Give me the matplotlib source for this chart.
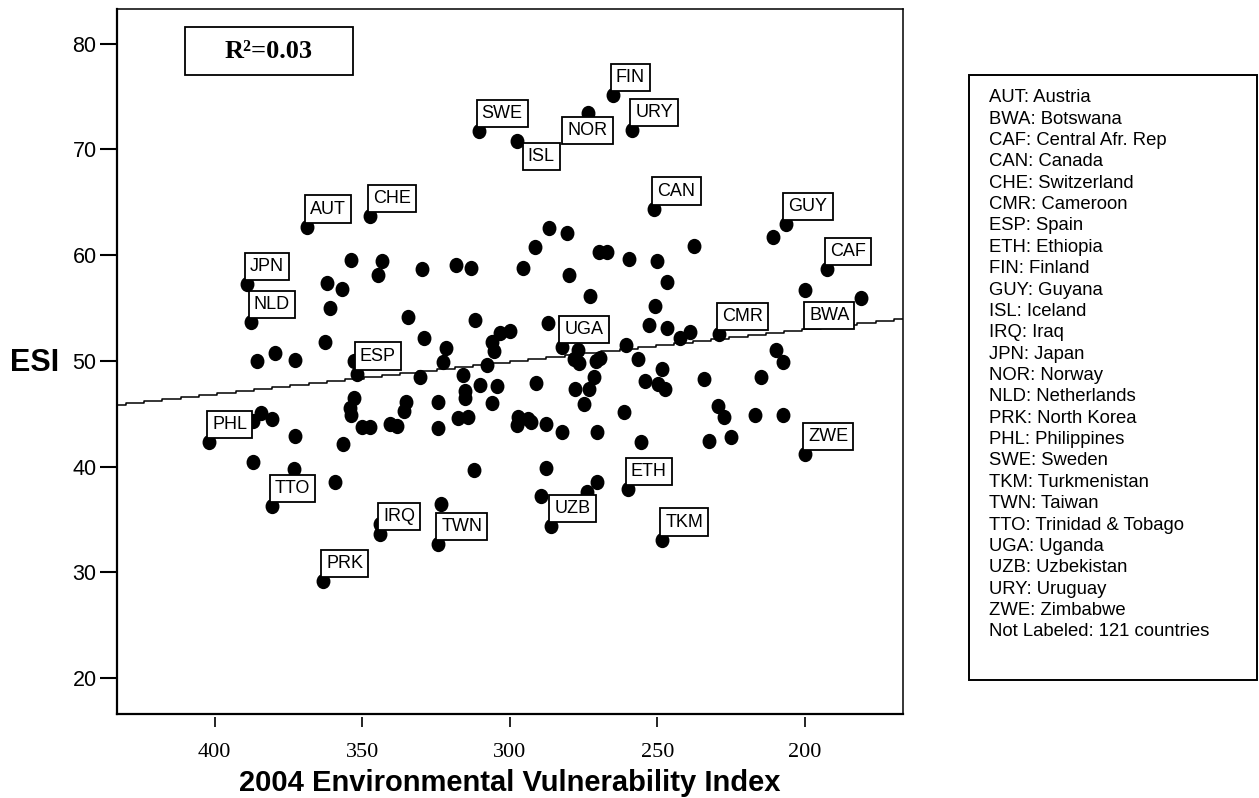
import numpy as np
import matplotlib
matplotlib.use("Agg")
import matplotlib.pyplot as plt
from matplotlib.path import Path
from matplotlib.transforms import Affine2D
from matplotlib.patches import Rectangle

plt.rcParams['font.family'] = ['Liberation Sans', 'DejaVu Sans']

# labelled countries: code, EVI 2004, ESI
codes = ['AUT', 'CHE', 'JPN', 'NLD', 'FIN', 'SWE', 'ISL', 'NOR', 'URY', 'CAN',
         'GUY', 'CAF', 'BWA', 'CMR', 'UGA', 'ESP', 'PHL', 'ZWE', 'ETH', 'TTO',
         'UZB', 'IRQ', 'TKM', 'TWN', 'PRK']
evi_lab = [368.8, 347.4, 389.2, 387.8, 265.2, 310.6, 297.7, 273.4, 258.5, 251.0,
           206.6, 192.4, 180.9, 229.1, 282.5, 351.9, 401.9, 199.9, 260.0, 380.6,
           285.9, 344.0, 248.3, 324.2, 363.3]
esi_lab = [62.7, 63.7, 57.3, 53.7, 75.1, 71.7, 70.8, 73.4, 71.8, 64.4,
           62.9, 58.7, 55.9, 52.5, 51.3, 48.8, 42.3, 41.2, 37.9, 36.3,
           34.4, 33.6, 33.1, 32.7, 29.2]

# remaining countries (not labelled)
evi_other = [361.9, 357.0, 353.9, 343.2, 344.8, 329.6, 286.8, 280.8, 291.6, 269.8,
             267.0, 259.6, 250.1, 246.6, 237.6, 318.1, 313.3, 295.6, 280.1, 272.7,
             211.0, 200.0, 361.0, 334.5, 329.0, 362.6, 385.8, 379.6, 372.9, 352.8,
             330.5, 322.6, 321.5, 352.8, 354.2, 353.9, 350.2, 347.4, 340.6, 338.2,
             335.2, 335.9, 324.3, 324.3, 384.3, 386.9, 380.6, 372.9, 356.4, 386.9,
             373.1, 359.3, 344.0, 323.4, 250.9, 252.8, 246.9, 242.4, 239.0, 209.7,
             207.4, 214.8, 234.2, 229.5, 227.5, 217.0, 207.4, 232.5, 225.1, 287.0,
             311.9, 303.4, 299.8, 306.2, 305.4, 307.9, 316.0, 310.2, 304.5, 315.2,
             315.2, 306.2, 317.5, 314.1, 291.2, 278.4, 276.5, 276.9, 270.8, 269.5,
             271.5, 278.0, 273.3, 274.8, 260.8, 256.5, 248.6, 254.3, 249.8, 247.5,
             297.4, 297.7, 293.9, 292.9, 287.6, 282.5, 270.6, 261.4, 255.4, 312.2,
             287.6, 289.3, 270.6, 273.7]
esi_other = [57.4, 56.8, 59.5, 59.4, 58.1, 58.7, 62.6, 62.1, 60.8, 60.3,
             60.3, 59.6, 59.4, 57.5, 60.9, 59.1, 58.8, 58.8, 58.1, 56.1,
             61.7, 56.7, 55.0, 54.1, 52.2, 51.8, 50.0, 50.7, 50.1, 50.0,
             48.5, 49.9, 51.2, 46.5, 45.5, 44.9, 43.7, 43.7, 44.0, 43.85,
             46.1, 45.3, 46.1, 43.6, 45.1, 44.3, 44.5, 42.9, 42.15, 40.4,
             39.8, 38.5, 34.6, 36.5, 55.2, 53.4, 53.1, 52.2, 52.7, 51.0,
             49.9, 48.5, 48.3, 45.7, 44.7, 44.9, 44.9, 42.4, 42.8, 53.6,
             53.9, 52.6, 52.8, 51.8, 50.9, 49.6, 48.7, 47.7, 47.6, 47.1,
             46.5, 46.0, 44.6, 44.7, 47.9, 50.2, 49.8, 51.0, 50.0, 50.3,
             48.5, 47.35, 47.35, 45.9, 51.5, 50.2, 49.2, 48.1, 47.8, 47.3,
             44.7, 43.9, 44.5, 44.2, 44.0, 43.3, 43.3, 45.15, 42.3, 39.7,
             39.9, 37.2, 38.5, 37.6]

# linear fit ESI ~ EVI
fit_intercept = 59.08
fit_slope = -0.0305
r_squared = 0.03

legend_lines = ['AUT: Austria', 'BWA: Botswana', 'CAF: Central Afr. Rep', 'CAN: Canada',
                'CHE: Switzerland', 'CMR: Cameroon', 'ESP: Spain', 'ETH: Ethiopia',
                'FIN: Finland', 'GUY: Guyana', 'ISL: Iceland', 'IRQ: Iraq', 'JPN: Japan',
                'NOR: Norway', 'NLD: Netherlands', 'PRK: North Korea', 'PHL: Philippines',
                'SWE: Sweden', 'TKM: Turkmenistan', 'TWN: Taiwan', 'TTO: Trinidad & Tobago',
                'UGA: Uganda', 'UZB: Uzbekistan', 'URY: Uruguay', 'ZWE: Zimbabwe',
                'Not Labeled: 121 countries']

# label placements that differ from the default (box up and to the right)
special = {'ISL': ((11, -7), 'left', 'top'),
           'NOR': ((-21, -9), 'left', 'top'),
           'BWA': ((-12, -9), 'right', 'top')}

W, H = 1259, 798
fig = plt.figure(figsize=(W / 100, H / 100), dpi=100)
ax = fig.add_axes([116.7 / W, 1 - 714 / H, (903 - 116.7) / W, (714 - 8.7) / H])

# slightly tall elliptical dot
dot = Path.unit_circle().transformed(Affine2D().scale(0.9, 1.0))

ax.plot(evi_other, esi_other, linestyle='none', marker=dot, markersize=10,
        color='black', zorder=3)
ax.plot(evi_lab, esi_lab, linestyle='none', marker=dot, markersize=10,
        color='black', zorder=3)

# fit line, drawn stepped like the old raster output
xs = np.linspace(433.2, 166.8, 44)
ax.plot(xs, fit_intercept + fit_slope * xs, drawstyle='steps-mid',
        color='black', lw=1.1, zorder=2)

for c, x, y in zip(codes, evi_lab, esi_lab):
    off, ha, va = special.get(c, ((3, 9), 'left', 'bottom'))
    ax.annotate(c, xy=(x, y), xytext=off, textcoords='offset pixels',
                ha=ha, va=va, fontsize=13, zorder=5,
                bbox=dict(boxstyle='square,pad=0.28', fc='white', ec='black', lw=1.3))

ax.set_xlim(433.2, 166.8)
ax.set_ylim(16.6, 83.3)

ax.set_yticks([20, 30, 40, 50, 60, 70, 80])
ax.tick_params(axis='y', length=12.5, width=1.5, labelsize=15.5, pad=2)
ax.tick_params(axis='x', length=0, labelbottom=False)
for s in ['left', 'bottom']:
    ax.spines[s].set_linewidth(1.6)
for s in ['top', 'right']:
    ax.spines[s].set_linewidth(1.1)

# x ticks sit a little below the axis line
sec = ax.secondary_xaxis(-0.0045)
sec.set_xticks([400, 350, 300, 250, 200])
sec.spines['bottom'].set_visible(False)
sec.tick_params(length=7.5, width=1.2, pad=11, labelsize=16)
for t in sec.get_xticklabels():
    t.set_fontfamily('Liberation Serif')

ax.set_xlabel('2004 Environmental Vulnerability Index', fontsize=21, fontweight='bold')
ax.xaxis.set_label_coords(0.5, -0.098)
ax.xaxis.label.set_va('center')
ax.set_ylabel('ESI', fontsize=22, fontweight='bold', rotation=0, ha='center', va='center')
ax.yaxis.set_label_coords(-0.1045, 0.497)

# R squared box
ax.add_patch(Rectangle(((185 - 116.7) / 786.3, (714 - 75) / 705.3), 168 / 786.3, 48 / 705.3,
                       transform=ax.transAxes, fill=False, ec='black', lw=1.3, zorder=6))
ax.text((269 - 116.7) / 786.3, (714 - 52) / 705.3, 'R²=%.2f' % r_squared,
        transform=ax.transAxes, ha='center', va='center', fontsize=19,
        fontweight='bold', fontfamily='Liberation Serif', zorder=6)

# legend of country codes
fig.patches.append(Rectangle((969 / W, 1 - 680 / H), (1257 - 969) / W, (680 - 75) / H,
                             transform=fig.transFigure, fill=False, ec='black', lw=1.4))
for i, line in enumerate(legend_lines):
    fig.text(989 / W, 1 - (97.7 + 21.37 * i) / H, line, fontsize=13.3,
             ha='left', va='center')

fig.savefig('out.png', dpi=100)
